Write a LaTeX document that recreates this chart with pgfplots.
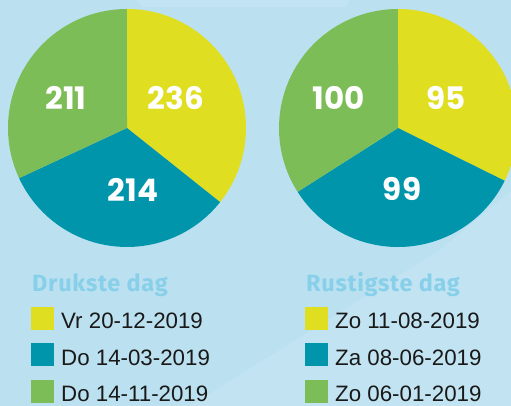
\documentclass[border=0pt]{standalone}
\usepackage{pgfplots}
\usepackage{pgfplotstable}
\pgfplotsset{compat=1.18}
\usepackage{fontspec}
\setmainfont{Liberation Sans}
\newfontfamily\numfont{Poppins}
\newfontfamily\titlefont[LetterSpace=3]{Fira Sans}

\definecolor{bg}{HTML}{BBE1F0}
\definecolor{bglight}{HTML}{C2E4F2}
\definecolor{pieY}{HTML}{DFDE20}
\definecolor{pieT}{HTML}{0095AB}
\definecolor{pieG}{HTML}{7DBD58}
\definecolor{titleblue}{HTML}{88CFEA}

% value, label position (px from top-left), legend text
\pgfplotstableread[col sep=comma]{
value,lx,ly,color,label
236,176,98,pieY,Vr 20-12-2019
214,133,190,pieT,Do 14-03-2019
211,66,98,pieG,Do 14-11-2019
}\busiest

\pgfplotstableread[col sep=comma]{
value,lx,ly,color,label
95,446,98,pieY,Zo 11-08-2019
99,402,189,pieT,Za 08-06-2019
100,339,98,pieG,Zo 06-01-2019
}\quietest

\def\pieR{119pt}

% #1 table, #2 cx, #3 cy (px), #4 legend x, #5 title
\newcommand\drawpie[5]{%
  \pgfplotstablegetrowsof{#1}\pgfmathtruncatemacro\lastrow{\pgfplotsretval-1}%
  \gdef\pietotal{0}%
  \foreach \i in {0,...,\lastrow}{%
    \pgfplotstablegetelem{\i}{value}\of{#1}%
    \pgfmathsetmacro\t{\pietotal+\pgfplotsretval}\xdef\pietotal{\t}}%
  \gdef\pieangle{90}%
  \foreach \i in {0,...,\lastrow}{%
    \pgfplotstablegetelem{\i}{value}\of{#1}\let\v\pgfplotsretval
    \pgfplotstablegetelem{\i}{color}\of{#1}\let\c\pgfplotsretval
    \pgfmathsetmacro\e{\pieangle-360*(\v/\pietotal)}%
    \fill[\c] (axis cs:#2,406-#3) -- ++(\pieangle:\pieR)
      arc[start angle=\pieangle,end angle=\e,radius=\pieR] -- cycle;
    \xdef\pieangle{\e}}%
  \foreach \i in {0,...,\lastrow}{%
    \pgfplotstablegetelem{\i}{value}\of{#1}\let\v\pgfplotsretval
    \pgfplotstablegetelem{\i}{lx}\of{#1}\let\lx\pgfplotsretval
    \pgfplotstablegetelem{\i}{ly}\of{#1}\let\ly\pgfplotsretval
    \pgfplotstablegetelem{\i}{color}\of{#1}\let\c\pgfplotsretval
    \pgfplotstablegetelem{\i}{label}\of{#1}\let\lab\pgfplotsretval
    \node[text=white,font=\numfont\bfseries\fontsize{31}{31}\selectfont,inner sep=0pt]
      at (axis cs:\lx,406-\ly) {\v};
    \pgfmathsetmacro\sy{406-307-36.5*\i}%
    \fill[\c] (axis cs:#4,\sy) rectangle (axis cs:#4+23,\sy-23);
    \node[anchor=base west,inner sep=0pt,text=black!90,font=\fontsize{22.3}{23}\selectfont]
      at (axis cs:#4+30,\sy-22) {\lab};
  }%
  \node[anchor=base west,inner sep=0pt,text=titleblue,font=\titlefont\bfseries\fontsize{23.5}{24}\selectfont]
    at (axis cs:#4+1,406-292) {#5};
}

\begin{document}
\begin{tikzpicture}
\begin{axis}[
  width=511pt,height=406pt,scale only axis,
  xmin=0,xmax=511,ymin=0,ymax=406,
  hide axis,clip=true,
]
\addplot[draw=none,fill=bg] coordinates {(0,0) (511,0) (511,406) (0,406)} -- cycle;
\addplot[draw=none,fill=bglight] coordinates {(190,0) (511,0) (511,215) (440,156)} -- cycle;
\addplot[draw=none,fill=bglight] coordinates {(137,406) (350,406) (345,399) (142,399)} -- cycle;
\pgfplotsextra{%
  \drawpie{\busiest}{127}{128}{31}{Drukste dag}
  \drawpie{\quietest}{398}{128}{305}{Rustigste dag}
}
\end{axis}
\end{tikzpicture}
\end{document}
